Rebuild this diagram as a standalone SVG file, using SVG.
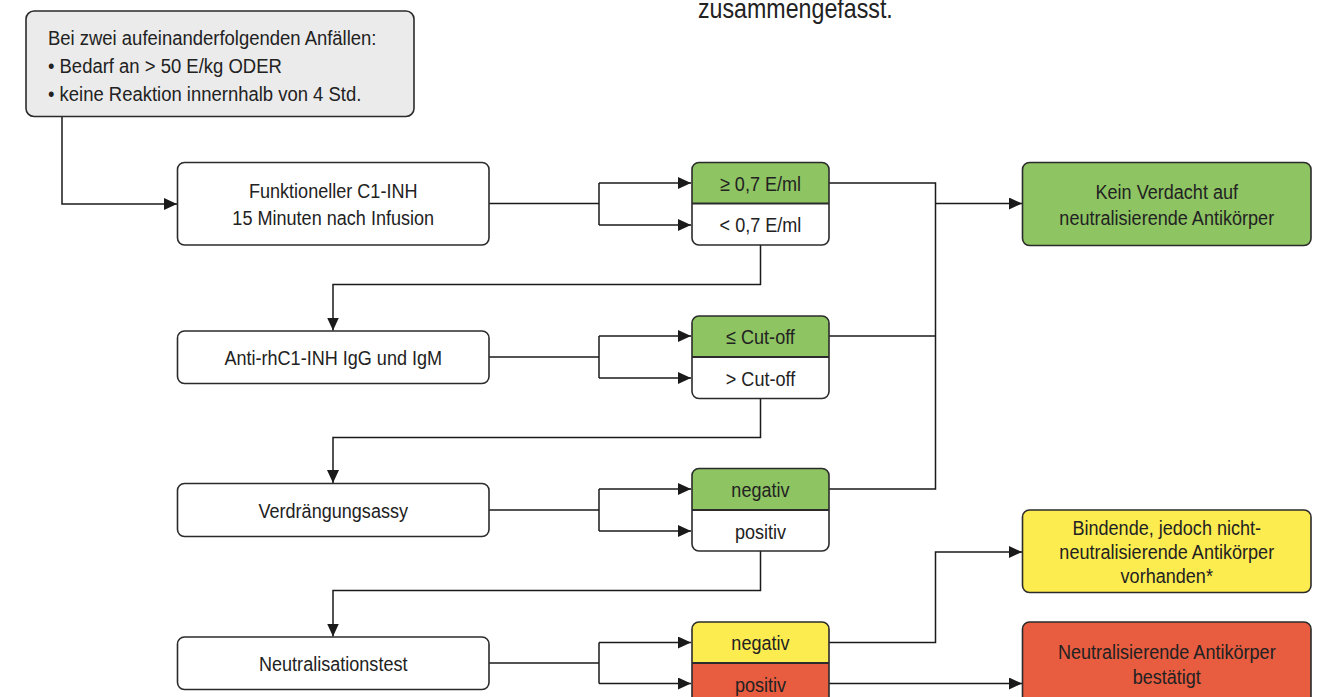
<svg xmlns="http://www.w3.org/2000/svg" width="1326" height="697" viewBox="0 0 1326 697">
<style>
.box{stroke:#2b2b2b;stroke-width:1.6}
.ol{fill:none;stroke:#2b2b2b;stroke-width:1.6}
.dv{stroke:#2b2b2b;stroke-width:2}
.c{fill:none;stroke:#1a1a1a;stroke-width:1.5}
.t{font-family:"Liberation Sans",Arial,sans-serif;font-size:21px;fill:#222}
.m{text-anchor:middle}
</style>
<defs>
<marker id="ah" viewBox="0 0 13 12" refX="13" refY="6" markerWidth="13" markerHeight="12" markerUnits="userSpaceOnUse" orient="auto">
<path d="M0,0 L13,6 L0,12 Z" fill="#1a1a1a"/>
</marker>
</defs>
<rect width="1326" height="697" fill="#ffffff"/>

<g id="caption">
<g transform="scale(0.86 1)"><text class="t" x="811.6" y="18" style="font-size:27px">zusammengefasst.</text></g>
</g>

<g id="connectors">
<polyline class="c" points="62,117 62,204 177,204" marker-end="url(#ah)"/>
<polyline class="c" points="489,203.5 599,203.5"/>
<polyline class="c" points="599,183 599,225"/>
<line class="c" x1="599" y1="183" x2="691" y2="183" marker-end="url(#ah)"/>
<line class="c" x1="599" y1="225" x2="691" y2="225" marker-end="url(#ah)"/>
<polyline class="c" points="489,357 599,357"/>
<polyline class="c" points="599,336 599,378"/>
<line class="c" x1="599" y1="336" x2="691" y2="336" marker-end="url(#ah)"/>
<line class="c" x1="599" y1="378" x2="691" y2="378" marker-end="url(#ah)"/>
<polyline class="c" points="489,510 599,510"/>
<polyline class="c" points="599,489 599,531"/>
<line class="c" x1="599" y1="489" x2="691" y2="489" marker-end="url(#ah)"/>
<line class="c" x1="599" y1="531" x2="691" y2="531" marker-end="url(#ah)"/>
<polyline class="c" points="489,663 599,663"/>
<polyline class="c" points="599,642.5 599,683.5"/>
<line class="c" x1="599" y1="642.5" x2="691" y2="642.5" marker-end="url(#ah)"/>
<line class="c" x1="599" y1="683.5" x2="691" y2="683.5" marker-end="url(#ah)"/>
<polyline class="c" points="760.5,245 760.5,284.5 333,284.5 333,330.5" marker-end="url(#ah)"/>
<polyline class="c" points="760.5,398.5 760.5,437.5 333,437.5 333,483" marker-end="url(#ah)"/>
<polyline class="c" points="760.5,551 760.5,590.5 333,590.5 333,636.5" marker-end="url(#ah)"/>
<polyline class="c" points="829,183 935.5,183 935.5,489 829,489"/>
<line class="c" x1="829" y1="336" x2="935.5" y2="336"/>
<line class="c" x1="935.5" y1="203.5" x2="1022" y2="203.5" marker-end="url(#ah)"/>
<polyline class="c" points="829,642.5 935.5,642.5 935.5,552 1022,552" marker-end="url(#ah)"/>
<line class="c" x1="829" y1="683.5" x2="1022" y2="683.5" marker-end="url(#ah)"/>
</g>

<g id="start">
<rect class="box" x="26" y="11" width="388" height="105.5" rx="8" fill="#ebebeb"/>
<g transform="scale(0.88 1)">
<text class="t" x="54.5" y="45">Bei zwei aufeinanderfolgenden Anfällen:</text>
<text class="t" x="54.5" y="73">• Bedarf an &gt; 50 E/kg ODER</text>
<text class="t" x="54.5" y="101">• keine Reaktion innernhalb von 4 Std.</text>
</g>
</g>

<g id="node-c1inh">
<rect class="box" x="177.5" y="162.5" width="311.5" height="82.5" rx="7" fill="#ffffff"/>
<g transform="scale(0.86 1)">
<text class="t m" x="387.5" y="198.5">Funktioneller C1-INH</text>
<text class="t m" x="387.5" y="225">15 Minuten nach Infusion</text>
</g>
</g>

<g id="node-anti">
<rect class="box" x="177.5" y="331" width="311.5" height="52.5" rx="7" fill="#ffffff"/>
<g transform="scale(0.86 1)"><text class="t m" x="387.5" y="365.5">Anti-rhC1-INH IgG und IgM</text></g>
</g>

<g id="node-verdr">
<rect class="box" x="177.5" y="483.5" width="311.5" height="53" rx="7" fill="#ffffff"/>
<g transform="scale(0.86 1)"><text class="t m" x="387.5" y="518">Verdrängungsassy</text></g>
</g>

<g id="node-neutr">
<rect class="box" x="177.5" y="637" width="311.5" height="52.5" rx="7" fill="#ffffff"/>
<g transform="scale(0.86 1)"><text class="t m" x="387.5" y="671">Neutralisationstest</text></g>
</g>

<g id="result-1">
<rect x="692" y="162.5" width="137" height="82.5" rx="7" fill="#ffffff"/>
<path d="M692,203.5 V169.5 Q692,162.5 699,162.5 H822 Q829,162.5 829,169.5 V203.5 Z" fill="#8ec462"/>
<rect class="ol" x="692" y="162.5" width="137" height="82.5" rx="7"/>
<line class="dv" x1="692" y1="203.5" x2="829" y2="203.5"/>
<g transform="scale(0.86 1)">
<text class="t m" x="884.3" y="191">≥ 0,7 E/ml</text>
<text class="t m" x="884.3" y="232.5">&lt; 0,7 E/ml</text>
</g>
</g>

<g id="result-2">
<rect x="692" y="316" width="137" height="82.5" rx="7" fill="#ffffff"/>
<path d="M692,357 V323 Q692,316 699,316 H822 Q829,316 829,323 V357 Z" fill="#8ec462"/>
<rect class="ol" x="692" y="316" width="137" height="82.5" rx="7"/>
<line class="dv" x1="692" y1="357" x2="829" y2="357"/>
<g transform="scale(0.86 1)">
<text class="t m" x="884.3" y="344">≤ Cut-off</text>
<text class="t m" x="884.3" y="386">&gt; Cut-off</text>
</g>
</g>

<g id="result-3">
<rect x="692" y="468.5" width="137" height="82.5" rx="7" fill="#ffffff"/>
<path d="M692,510 V475.5 Q692,468.5 699,468.5 H822 Q829,468.5 829,475.5 V510 Z" fill="#8ec462"/>
<rect class="ol" x="692" y="468.5" width="137" height="82.5" rx="7"/>
<line class="dv" x1="692" y1="510" x2="829" y2="510"/>
<g transform="scale(0.86 1)">
<text class="t m" x="884.3" y="497">negativ</text>
<text class="t m" x="884.3" y="539">positiv</text>
</g>
</g>

<g id="result-4">
<rect x="692" y="622" width="137" height="83" rx="7" fill="#e85c40"/>
<path d="M692,663 V629 Q692,622 699,622 H822 Q829,622 829,629 V663 Z" fill="#fdec50"/>
<rect class="ol" x="692" y="622" width="137" height="83" rx="7"/>
<line class="dv" x1="692" y1="663" x2="829" y2="663"/>
<g transform="scale(0.86 1)">
<text class="t m" x="884.3" y="650.5">negativ</text>
<text class="t m" x="884.3" y="692">positiv</text>
</g>
</g>

<g id="outcome-none">
<rect class="box" x="1022.5" y="162.5" width="288.5" height="83" rx="7" fill="#8ec462"/>
<g transform="scale(0.86 1)">
<text class="t m" x="1356.7" y="199">Kein Verdacht auf</text>
<text class="t m" x="1356.7" y="225">neutralisierende Antikörper</text>
</g>
</g>

<g id="outcome-binding">
<rect class="box" x="1022.5" y="510" width="288.5" height="82.5" rx="7" fill="#fdec50"/>
<g transform="scale(0.86 1)">
<text class="t m" x="1356.7" y="535">Bindende, jedoch nicht-</text>
<text class="t m" x="1356.7" y="559">neutralisierende Antikörper</text>
<text class="t m" x="1356.7" y="583">vorhanden*</text>
</g>
</g>

<g id="outcome-neutralizing">
<rect class="box" x="1022.5" y="622" width="288.5" height="83" rx="7" fill="#e85c40"/>
<g transform="scale(0.86 1)">
<text class="t m" x="1356.7" y="659">Neutralisierende Antikörper</text>
<text class="t m" x="1356.7" y="684">bestätigt</text>
</g>
</g>
</svg>
